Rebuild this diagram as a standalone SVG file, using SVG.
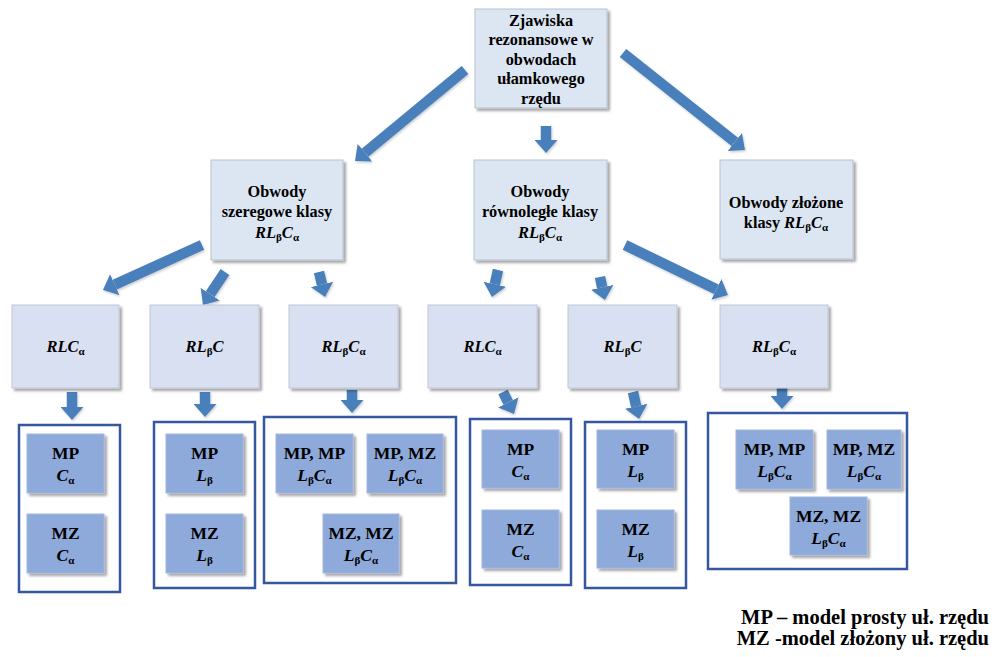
<svg xmlns="http://www.w3.org/2000/svg" width="997" height="657" viewBox="0 0 997 657" font-family="'Liberation Serif', 'DejaVu Serif', serif">
  <defs>
    <filter id="shadow" x="-10%" y="-10%" width="125%" height="125%">
      <feDropShadow dx="2.5" dy="2.5" stdDeviation="1.2" flood-color="#000" flood-opacity="0.35"/>
    </filter>
    <filter id="ashadow" filterUnits="userSpaceOnUse" x="0" y="0" width="997" height="657">
      <feDropShadow dx="1" dy="1.5" stdDeviation="1" flood-color="#000" flood-opacity="0.2"/>
    </filter>
    <marker id="head" viewBox="0 0 13 23" refX="0" refY="11.5" markerWidth="13" markerHeight="23" markerUnits="userSpaceOnUse" orient="auto">
      <path d="M0,0 L13,11.5 L0,23 Z" fill="#4a7fbb"/>
    </marker>
  </defs>
  <style>
    text { font-family: 'Liberation Serif', 'DejaVu Serif', serif; font-weight: bold; fill: #000; text-anchor: middle; }
    .t { font-size: 16.3px; }
    .m { font-size: 16.5px; font-style: italic; }
    .m2 { font-size: 17.5px; font-style: italic; }
    .i { font-size: 17.5px; }
    .s { font-size: 11px; font-style: normal; }
    .lg { font-size: 20.5px; text-anchor: end; }
    .top { fill: #dce6f2; stroke: #b8c2cf; stroke-width: 1; filter: url(#shadow); }
    .mid { fill: #d9e0f1; stroke: #c0c7d6; stroke-width: 1; filter: url(#shadow); }
    .leaf { fill: #8eaadb; stroke: #9fb5df; stroke-width: 1; filter: url(#shadow); }
    .frame { fill: #fff; stroke: #3457a0; stroke-width: 2.5; }
    .arr { stroke: #4a7fbb; stroke-width: 10.5; fill: none; marker-end: url(#head); }
  </style>

  <rect width="997" height="657" fill="#fff"/>

  <!-- connectors -->
  <g id="connectors" filter="url(#ashadow)">
    <line class="arr" x1="465" y1="70" x2="365" y2="152.7"/>
    <line class="arr" x1="546" y1="126" x2="546" y2="140"/>
    <line class="arr" x1="623" y1="53" x2="734.8" y2="141.9"/>
    <line class="arr" x1="202" y1="245" x2="114.8" y2="284.6"/>
    <line class="arr" x1="225" y1="272" x2="210.2" y2="294.2"/>
    <line class="arr" x1="319" y1="272" x2="322" y2="284.4"/>
    <line class="arr" x1="498" y1="270" x2="494.8" y2="284.3"/>
    <line class="arr" x1="600" y1="277" x2="602.2" y2="287.3"/>
    <line class="arr" x1="625" y1="245" x2="716.3" y2="289.3"/>
    <line class="arr" x1="72" y1="392" x2="72" y2="407"/>
    <line class="arr" x1="205" y1="392" x2="205" y2="404"/>
    <line class="arr" x1="352" y1="390" x2="352" y2="400"/>
    <line class="arr" x1="503" y1="392" x2="508.2" y2="402.4"/>
    <line class="arr" x1="633" y1="392" x2="636.2" y2="406.3"/>
    <line class="arr" x1="782" y1="386" x2="782" y2="396"/>
  </g>

  <!-- root -->
  <g id="root">
    <rect class="top" x="475" y="9" width="132" height="99"/>
    <text class="t" x="541" y="25.5">Zjawiska</text>
    <text class="t" x="541" y="45">rezonansowe w</text>
    <text class="t" x="541" y="64.5">obwodach</text>
    <text class="t" x="541" y="84">ułamkowego</text>
    <text class="t" x="541" y="103.5">rzędu</text>
  </g>

  <!-- circuit classes -->
  <g id="series">
    <rect class="top" x="211" y="160" width="132" height="100"/>
    <text class="t" x="277" y="197">Obwody</text>
    <text class="t" x="277" y="217">szeregowe klasy</text>
    <text class="m" x="277" y="237.5">RL<tspan class="s" dy="3">β</tspan><tspan dy="-3">C</tspan><tspan class="s" dy="3">α</tspan></text>
  </g>
  <g id="parallel">
    <rect class="top" x="474" y="160" width="133" height="100"/>
    <text class="t" x="540" y="197">Obwody</text>
    <text class="t" x="540" y="217">równoległe klasy</text>
    <text class="m" x="540" y="237.5">RL<tspan class="s" dy="3">β</tspan><tspan dy="-3">C</tspan><tspan class="s" dy="3">α</tspan></text>
  </g>
  <g id="compound">
    <rect class="top" x="720" y="160" width="133" height="99"/>
    <text class="t" x="786" y="208">Obwody złożone</text>
    <text class="t" x="786" y="227.5">klasy <tspan class="m">RL</tspan><tspan class="s" dy="3">β</tspan><tspan class="m" dy="-3">C</tspan><tspan class="s" dy="3">α</tspan></text>
  </g>

  <!-- circuit variants -->
  <g id="s-rlca">
    <rect class="mid" x="12" y="305" width="107" height="83"/>
    <text class="m" x="65.5" y="352">RLC<tspan class="s" dy="3">α</tspan></text>
  </g>
  <g id="s-rlbc">
    <rect class="mid" x="150" y="305" width="109" height="83"/>
    <text class="m" x="204.5" y="352">RL<tspan class="s" dy="3">β</tspan><tspan dy="-3">C</tspan></text>
  </g>
  <g id="s-rlbca">
    <rect class="mid" x="289" y="305" width="109" height="83"/>
    <text class="m" x="343.5" y="352">RL<tspan class="s" dy="3">β</tspan><tspan dy="-3">C</tspan><tspan class="s" dy="3">α</tspan></text>
  </g>
  <g id="p-rlca">
    <rect class="mid" x="428" y="305" width="109" height="83"/>
    <text class="m" x="482.5" y="352">RLC<tspan class="s" dy="3">α</tspan></text>
  </g>
  <g id="p-rlbc">
    <rect class="mid" x="568" y="305" width="109" height="83"/>
    <text class="m" x="622.5" y="352">RL<tspan class="s" dy="3">β</tspan><tspan dy="-3">C</tspan></text>
  </g>
  <g id="p-rlbca">
    <rect class="mid" x="720" y="305" width="108" height="83"/>
    <text class="m" x="774" y="352">RL<tspan class="s" dy="3">β</tspan><tspan dy="-3">C</tspan><tspan class="s" dy="3">α</tspan></text>
  </g>

  <!-- model groups -->
  <g id="models-s-rlca">
    <rect class="frame" x="19" y="425" width="101" height="167"/>
    <rect class="leaf" x="27" y="434" width="77" height="59"/>
    <text class="i" x="65.5" y="459">MP</text>
    <text class="m2" x="65.5" y="481">C<tspan class="s" dy="3">α</tspan></text>
    <rect class="leaf" x="27" y="514" width="77" height="59"/>
    <text class="i" x="65.5" y="539">MZ</text>
    <text class="m2" x="65.5" y="561">C<tspan class="s" dy="3">α</tspan></text>
  </g>
  <g id="models-s-rlbc">
    <rect class="frame" x="154" y="422" width="101" height="166"/>
    <rect class="leaf" x="166" y="434" width="77" height="59"/>
    <text class="i" x="204.5" y="459">MP</text>
    <text class="m2" x="204.5" y="481">L<tspan class="s" dy="3">β</tspan></text>
    <rect class="leaf" x="166" y="514" width="77" height="59"/>
    <text class="i" x="204.5" y="539">MZ</text>
    <text class="m2" x="204.5" y="561">L<tspan class="s" dy="3">β</tspan></text>
  </g>
  <g id="models-s-rlbca">
    <rect class="frame" x="264" y="417" width="192" height="166"/>
    <rect class="leaf" x="276" y="434" width="77" height="59"/>
    <text class="i" x="314.5" y="459">MP, MP</text>
    <text class="m2" x="314.5" y="481">L<tspan class="s" dy="3">β</tspan><tspan dy="-3">C</tspan><tspan class="s" dy="3">α</tspan></text>
    <rect class="leaf" x="367" y="434" width="76" height="59"/>
    <text class="i" x="405" y="459">MP, MZ</text>
    <text class="m2" x="405" y="481">L<tspan class="s" dy="3">β</tspan><tspan dy="-3">C</tspan><tspan class="s" dy="3">α</tspan></text>
    <rect class="leaf" x="323" y="514" width="76" height="59"/>
    <text class="i" x="361" y="539">MZ, MZ</text>
    <text class="m2" x="361" y="561">L<tspan class="s" dy="3">β</tspan><tspan dy="-3">C</tspan><tspan class="s" dy="3">α</tspan></text>
  </g>
  <g id="models-p-rlca">
    <rect class="frame" x="470" y="419" width="101" height="166"/>
    <rect class="leaf" x="482" y="430" width="77" height="58"/>
    <text class="i" x="520.5" y="455">MP</text>
    <text class="m2" x="520.5" y="477">C<tspan class="s" dy="3">α</tspan></text>
    <rect class="leaf" x="482" y="510" width="77" height="58"/>
    <text class="i" x="520.5" y="535">MZ</text>
    <text class="m2" x="520.5" y="557">C<tspan class="s" dy="3">α</tspan></text>
  </g>
  <g id="models-p-rlbc">
    <rect class="frame" x="585" y="422" width="101" height="166"/>
    <rect class="leaf" x="597" y="430" width="77" height="58"/>
    <text class="i" x="635.5" y="455">MP</text>
    <text class="m2" x="635.5" y="477">L<tspan class="s" dy="3">β</tspan></text>
    <rect class="leaf" x="597" y="510" width="77" height="58"/>
    <text class="i" x="635.5" y="535">MZ</text>
    <text class="m2" x="635.5" y="557">L<tspan class="s" dy="3">β</tspan></text>
  </g>
  <g id="models-p-rlbca">
    <rect class="frame" x="708" y="413" width="199" height="156"/>
    <rect class="leaf" x="736" y="430" width="77" height="59"/>
    <text class="i" x="774.5" y="455">MP, MP</text>
    <text class="m2" x="774.5" y="477">L<tspan class="s" dy="3">β</tspan><tspan dy="-3">C</tspan><tspan class="s" dy="3">α</tspan></text>
    <rect class="leaf" x="827" y="430" width="74" height="59"/>
    <text class="i" x="864" y="455">MP, MZ</text>
    <text class="m2" x="864" y="477">L<tspan class="s" dy="3">β</tspan><tspan dy="-3">C</tspan><tspan class="s" dy="3">α</tspan></text>
    <rect class="leaf" x="790" y="497" width="77" height="58"/>
    <text class="i" x="828.5" y="522">MZ, MZ</text>
    <text class="m2" x="828.5" y="544">L<tspan class="s" dy="3">β</tspan><tspan dy="-3">C</tspan><tspan class="s" dy="3">α</tspan></text>
  </g>

  <!-- legend -->
  <g id="legend">
    <text class="lg" x="989" y="624">MP – model prosty uł. rzędu</text>
    <text class="lg" x="989" y="645">MZ -model złożony uł. rzędu</text>
  </g>
</svg>
